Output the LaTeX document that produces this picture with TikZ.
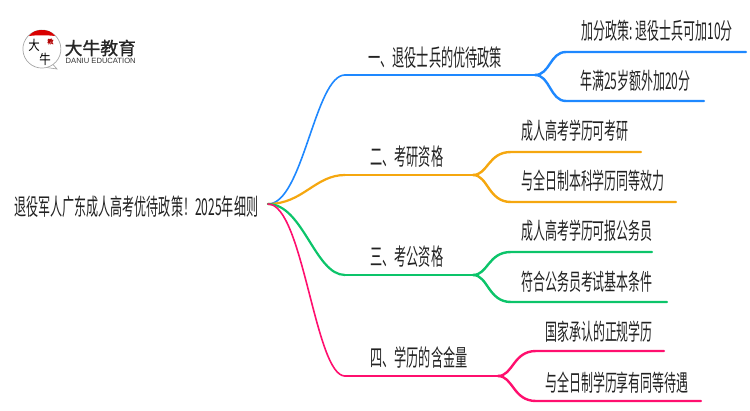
\documentclass[tikz,border=0pt]{standalone}
\usepackage{fontspec}
\setmainfont{Noto Sans CJK SC}[FakeStretch=0.52]
\newfontfamily\logofont{Noto Sans CJK SC}[FakeBold=1.2]
\newfontfamily\brushfont{Noto Sans CJK SC}[FakeStretch=0.85]
\newfontfamily\logolat{Liberation Sans}
\definecolor{cblue}{HTML}{1E88FF}
\definecolor{corange}{HTML}{F5A70F}
\definecolor{cgreen}{HTML}{0CC46A}
\definecolor{cpink}{HTML}{FF0F6E}
\definecolor{ctext}{HTML}{222222}
\tikzset{
  lab/.style={anchor=west,inner sep=0pt,text=ctext,font=\fontsize{23}{26}\selectfont},
  blab/.style={lab,font=\fontsize{23.4}{26}\selectfont},
  rlab/.style={lab,font=\fontsize{23.2}{26}\selectfont},
  trunk/.style={line width=1.6pt,line cap=round},
  bar/.style={line width=2.6pt,line cap=round},
  kid/.style={line width=2.4pt,line cap=round},
}
\begin{document}
\begin{tikzpicture}[x=1pt,y=-1pt]
\useasboundingbox (0,0) rectangle (750,410);
% logo
\draw[black!35,line width=.7pt] (46.5,67.5) arc[start angle=76,end angle=-283,radius=19] ;
\draw[black!35,line width=.7pt] (46.5,67.5) -- (57,69) -- (53,64.5);
\fill[red!85!black] (29,36) .. controls (32,31.5) and (37,30) .. (42,30) .. controls (47,30) and (52,31.5) .. (55,36) .. controls (47,35) and (37,35) .. (29,36) -- cycle;
\node[inner sep=0pt,text=black,font=\brushfont\fontsize{13.5}{13.5}\selectfont] (lg1) at (34,45) {大};
\node[inner sep=0pt,text=black,font=\brushfont\fontsize{13.5}{13.5}\selectfont] (lg2) at (45,59) {牛};
\node[inner sep=0pt,text=red!70!black,font=\logofont\fontsize{6}{6}\selectfont] (lg3) at (50.5,41.5) {教};
\node[inner sep=0pt,anchor=west,text=black!85,font=\logofont\fontsize{17.8}{18}\selectfont] (lgt) at (64.5,48) {大牛教育};
\node[inner sep=0pt,anchor=west,text=black!80,font=\logolat\fontsize{7.6}{8}\selectfont] (lge) at (65.5,60.5) {DANIU EDUCATION};
% texts
\node[rlab] (root) at (14,206.5) {退役军人广东成人高考优待政策！2025年细则};
\node[blab] (b1) at (368,58) {一、退役士兵的优待政策};
\node[blab] (b2) at (370,157) {二、考研资格};
\node[blab] (b3) at (370,257) {三、考公资格};
\node[blab] (b4) at (370,357) {四、学历的含金量};
\node[lab] (c11) at (581,31) {加分政策: 退役士兵可加10分};
\node[lab] (c12) at (580,81) {年满25岁额外加20分};
\node[lab] (c21) at (521,131) {成人高考学历可考研};
\node[lab] (c22) at (521,181) {与全日制本科学历同等效力};
\node[lab] (c31) at (521,231) {成人高考学历可报公务员};
\node[lab] (c32) at (521,282) {符合公务员考试基本条件};
\node[lab] (c41) at (545,332) {国家承认的正规学历};
\node[lab] (c42) at (545,383) {与全日制学历享有同等待遇};
% anchor points
\coordinate (o) at (268,204);
\coordinate (k1) at (345,75);  \coordinate (f1) at (535,75);
\coordinate (k2) at (345,175); \coordinate (f2) at (473,175);
\coordinate (k3) at (345,275); \coordinate (f3) at (473,275);
\coordinate (k4) at (345,376); \coordinate (f4) at (498,376);
\coordinate (a11) at (566,52);  \coordinate (e11) at (746,52);
\coordinate (a12) at (566,101); \coordinate (e12) at (704,101);
\coordinate (a21) at (511,152); \coordinate (e21) at (641,152);
\coordinate (a22) at (511,202); \coordinate (e22) at (676,202);
\coordinate (a31) at (511,252); \coordinate (e31) at (652,252);
\coordinate (a32) at (511,302); \coordinate (e32) at (667,302);
\coordinate (a41) at (536,351); \coordinate (e41) at (664,351);
\coordinate (a42) at (536,401); \coordinate (e42) at (701,401);
% blue
\draw[cblue,trunk] (o) .. controls (303,204) and (315,75) .. (k1);
\draw[cblue,bar] (k1) -- (f1);
\draw[cblue,kid] (f1) .. controls (550,75) and (550,52) .. (a11) -- (e11);
\draw[cblue,kid] (f1) .. controls (550,75) and (550,101) .. (a12) -- (e12);
% orange
\draw[corange,bar,line width=2.2pt] (o) .. controls (303,204) and (315,175) .. (k2);
\draw[corange,bar] (k2) -- (f2);
\draw[corange,kid] (f2) .. controls (488,175) and (488,152) .. (a21) -- (e21);
\draw[corange,kid] (f2) .. controls (488,175) and (488,202) .. (a22) -- (e22);
% green
\draw[cgreen,bar,line width=2.2pt] (o) .. controls (303,204) and (315,275) .. (k3);
\draw[cgreen,bar] (k3) -- (f3);
\draw[cgreen,kid] (f3) .. controls (488,275) and (488,252) .. (a31) -- (e31);
\draw[cgreen,kid] (f3) .. controls (488,275) and (488,302) .. (a32) -- (e32);
% pink
\draw[cpink,trunk] (o) .. controls (303,204) and (315,376) .. (k4);
\draw[cpink,bar] (k4) -- (f4);
\draw[cpink,kid] (f4) .. controls (513,376) and (513,351) .. (a41) -- (e41);
\draw[cpink,kid] (f4) .. controls (513,376) and (513,401) .. (a42) -- (e42);
\end{tikzpicture}
\end{document}
